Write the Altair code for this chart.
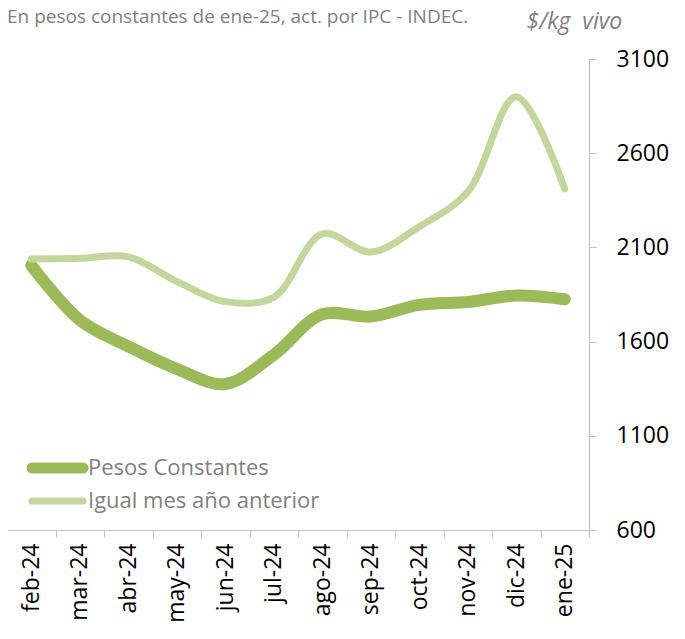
import altair as alt
import pandas as pd

months = ["feb-24", "mar-24", "abr-24", "may-24", "jun-24", "jul-24",
          "ago-24", "sep-24", "oct-24", "nov-24", "dic-24", "ene-25"]
pesos_constantes = [2005, 1715, 1575, 1455, 1375, 1530, 1745, 1733, 1795, 1810, 1845, 1825]
igual_mes_anio_anterior = [2038, 2042, 2050, 1920, 1812, 1835, 2172, 2075, 2210, 2395, 2900, 2410]
series = ["Pesos Constantes", "Igual mes año anterior"]
colors = ["#9BBB59", "#C3D69B"]
widths = [12, 7]
y_ticks = [600, 1100, 1600, 2100, 2600, 3100]

subtitle = "En pesos constantes de ene-25, act. por IPC - INDEC."
unit = "$/kg\u00a0\u00a0vivo"

df = pd.DataFrame({
    "mes": months * 2,
    "valor": pesos_constantes + igual_mes_anio_anterior,
    "serie": [series[0]] * len(months) + [series[1]] * len(months),
    "idx": list(range(len(months))) * 2,
})

FONT = "Open Sans"
GRAY_AX = "#bfbfbf"

x = alt.X("mes:N", sort=months, bandPosition=0.5,
          scale=alt.Scale(type="band", paddingInner=0, paddingOuter=0),
          axis=alt.Axis(title=None, labelAngle=-90, labelFontSize=23, labelColor="black",
                        labelFont=FONT, tickBand="extent", tickSize=7, tickColor=GRAY_AX,
                        domainColor=GRAY_AX, labelPadding=6, grid=False))
y = alt.Y("valor:Q",
          scale=alt.Scale(domain=[600, 3100], nice=False, zero=False),
          axis=alt.Axis(title=unit, orient="right", values=y_ticks, format="d", labelFontSize=23,
                        labelColor="black", labelFont=FONT, tickSize=7, tickColor=GRAY_AX,
                        domainColor=GRAY_AX, labelPadding=20, grid=False,
                        titleAngle=0, titleAlign="left", titleBaseline="middle",
                        titleX=-63, titleY=-38, titleFont=FONT, titleFontSize=23,
                        titleFontStyle="italic", titleFontWeight="normal",
                        titleColor="#7f7f7f"))

lines = alt.Chart(df).mark_line(interpolate="catmull-rom", strokeCap="round").encode(
    x=x, y=y,
    color=alt.Color("serie:N", sort=series,
                    scale=alt.Scale(domain=series, range=colors), legend=None),
    strokeWidth=alt.StrokeWidth("serie:N", sort=series,
                                scale=alt.Scale(domain=series, range=widths), legend=None),
    order=alt.Order("idx:Q"),
)

layers = [lines]

# manual legend
leg_y = [409, 442]
for i, s in enumerate(series):
    ldf = pd.DataFrame({"t": [s]})
    layers.append(alt.Chart(ldf).mark_rule(strokeCap="round", color=colors[i],
                                           strokeWidth=[11, 7][i]).encode(
        x=alt.value(25), x2=alt.value(76), y=alt.value(leg_y[i])))
    layers.append(alt.Chart(ldf).mark_text(align="left", baseline="middle", fontSize=22,
                                           font=FONT, color="#7f7f7f").encode(
        text="t:N", x=alt.value(81), y=alt.value(leg_y[i])))

txt_df = pd.DataFrame({"t": [subtitle]})
layers.append(alt.Chart(txt_df).mark_text(align="left", baseline="middle", fontSize=19,
                                          font=FONT, color="#7f7f7f").encode(
    text="t:N", x=alt.value(0), y=alt.value(-42)))

chart = alt.layer(*layers).properties(
    width=582, height=471,
    padding={"left": -12, "top": 0, "right": 0, "bottom": 0},
).configure_view(stroke=None)

chart.save("out.html", embed_options={"renderer": "svg", "actions": False})
